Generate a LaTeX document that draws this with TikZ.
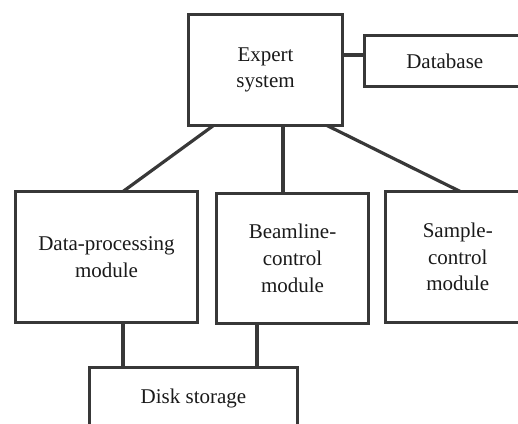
\documentclass[tikz,border=0pt]{standalone}
\usepackage{fontspec}
\setmainfont{Liberation Serif}
\usetikzlibrary{calc}
\definecolor{ln}{HTML}{383838}
\definecolor{tx}{HTML}{1A1A1A}
\tikzset{
  blk/.style={draw=ln, line width=3.2pt, inner sep=0pt, outer sep=0pt, align=center,
    text=tx, font=\fontsize{21}{26.7}\selectfont},
  lnk/.style={draw=ln, line width=3.2pt}
}
\begin{document}
\begin{tikzpicture}[x=1pt,y=-1pt]
\useasboundingbox (0,0) rectangle (518,423);
\clip (0,0) rectangle (518,423);
\node[blk, minimum width=154pt, minimum height=111pt] (es) at (265.5,70) {Expert\\system};
\node[blk, minimum width=160pt, minimum height=51pt] (db) at (444.75,61) {Database};
\node[blk, minimum width=182pt, minimum height=131pt] (dp) at (106.5,257) {Data-processing\\module};
\node[blk, minimum width=152pt, minimum height=130pt] (bl) at (292.5,258.5) {Beamline-\\control\\module};
\node[blk, minimum width=145pt, minimum height=131pt] (sc) at (457.75,257) {Sample-\\control\\module};
\node[blk, minimum width=208pt, minimum height=62.5pt] (ds) at (193.5,398.75) {\raisebox{5pt}{Disk storage}};
\coordinate (a1) at ($(es.east)+(0,-15)$);
\draw[lnk] (a1) -- (a1 -| db.west);
\draw[lnk] ($(es.south west)+(25,0)$) -- ($(dp.north)+(16.5,0)$);
\coordinate (a2) at ($(es.south)+(17.5,0)$);
\draw[lnk] (a2) -- (a2 |- bl.north);
\draw[lnk] ($(es.south east)+(-15.5,0)$) -- ($(sc.north)+(2.5,0)$);
\coordinate (a3) at ($(dp.south)+(16.5,0)$);
\draw[lnk] (a3) -- (a3 |- ds.north);
\coordinate (a4) at ($(bl.south)+(-35.5,0)$);
\draw[lnk] (a4) -- (a4 |- ds.north);
\end{tikzpicture}
\end{document}
